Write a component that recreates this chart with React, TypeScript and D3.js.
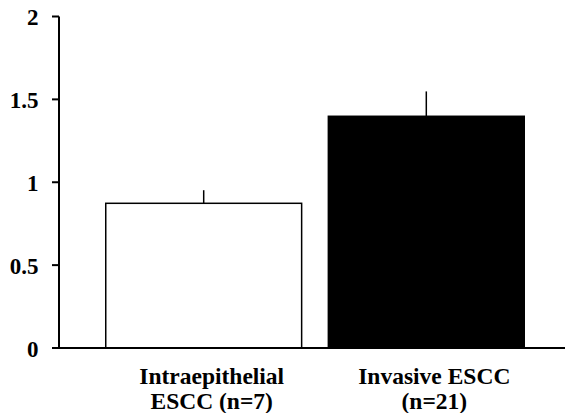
import React from "react";
import * as d3 from "d3";

const categories = ["Intraepithelial ESCC (n=7)", "Invasive ESCC (n=21)"];
const labelLines = [
  ["Intraepithelial", "ESCC (n=7)"],
  ["Invasive ESCC", "(n=21)"],
];
const means = [0.873, 1.398];
const errors = [0.079, 0.15];
const fills = ["#ffffff", "#000000"];
const yTicks = [0, 0.5, 1, 1.5, 2];
const yTickLabels = ["0", "0.5", "1", "1.5", "2"];

export default function App() {
  const W = 565;
  const H = 413;
  const x0 = 59;
  const y = d3.scaleLinear().domain([0, 2]).range([348, 16.5]);
  const x = d3
    .scaleBand<string>()
    .domain(categories)
    .range([x0, 571])
    .paddingInner(0.12)
    .paddingOuter(0.21);
  const font = "'Liberation Serif', 'Times New Roman', serif";
  return (
    <svg
      width={W}
      height={H}
      style={{ position: "absolute", left: 0, top: 0, background: "#fff" }}
    >
      {categories.map((c, i) => {
        const bx = x(c)!;
        const bw = x.bandwidth();
        const cx = bx + bw / 2;
        return (
          <g key={c}>
            <line
              x1={cx}
              x2={cx}
              y1={y(means[i])}
              y2={y(means[i] + errors[i])}
              stroke="#000"
              strokeWidth={1.5}
            />
            <rect
              x={bx}
              y={y(means[i])}
              width={bw}
              height={y(0) - y(means[i])}
              fill={fills[i]}
              stroke="#000"
              strokeWidth={1.5}
            />
            <text
              x={cx + 8}
              y={384}
              textAnchor="middle"
              fontFamily={font}
              fontWeight="bold"
              fontSize={23.5}
            >
              {labelLines[i].map((l, j) => (
                <tspan key={j} x={cx + 8} dy={j === 0 ? 0 : 25}>
                  {l}
                </tspan>
              ))}
            </text>
          </g>
        );
      })}
      <line x1={x0} x2={565} y1={y(0)} y2={y(0)} stroke="#000" strokeWidth={2} />
      <line x1={x0} x2={x0} y1={y(0)} y2={y(2)} stroke="#000" strokeWidth={2} />
      {yTicks.map((t, i) => (
        <g key={t}>
          <line x1={52} x2={x0} y1={y(t)} y2={y(t)} stroke="#000" strokeWidth={2} />
          <text
            x={38.5}
            y={y(t)}
            dy="0.38em"
            textAnchor="end"
            fontFamily={font}
            fontWeight="bold"
            fontSize={23}
          >
            {yTickLabels[i]}
          </text>
        </g>
      ))}
    </svg>
  );
}
